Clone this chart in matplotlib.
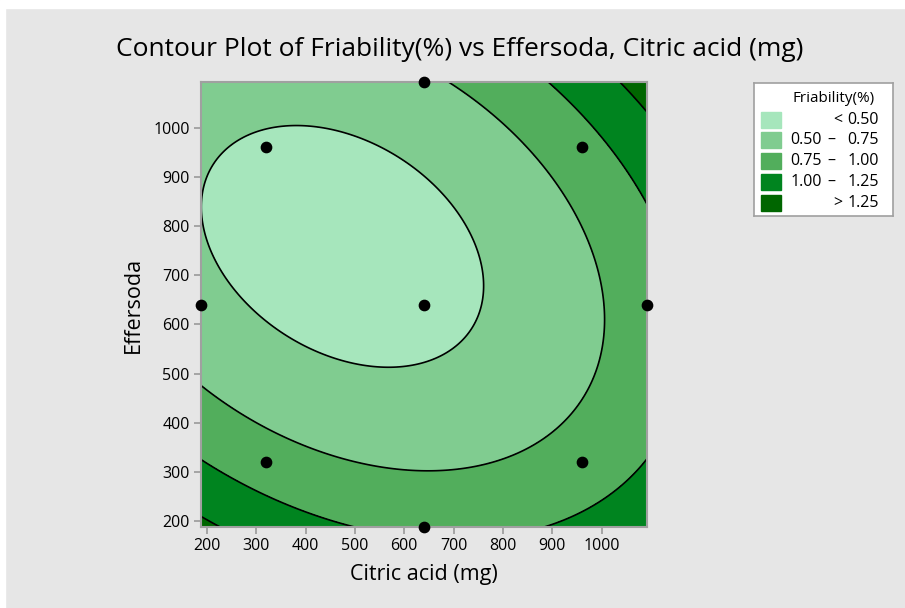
import numpy as np
import matplotlib.pyplot as plt
from matplotlib.patches import Rectangle

plt.rcParams['font.family'] = ['Open Sans', 'DejaVu Sans']

# points traced along each contour line of the reference (citric acid, effersoda)
c050_x = [362, 253, 195, 207, 263, 321, 483, 557, 686, 733, 757, 757, 737, 642, 591, 517]
c050_y = [1000, 968, 853, 738, 657, 603, 525, 515, 542, 590, 650, 725, 799, 900, 937, 974]
c075_x = [693, 767, 845, 902, 959, 996, 1003, 1003, 996, 966, 899, 794, 679, 591, 510, 423, 315, 190]
c075_y = [1090, 1042, 968, 887, 799, 711, 630, 603, 535, 451, 380, 323, 305, 304, 320, 343, 392, 475]
c100_x = [892, 956, 1013, 1091, 190, 254, 321, 423, 490, 892, 969, 1030, 1091]
c100_y = [1090, 1028, 961, 846, 324, 289, 252, 211, 191, 190, 225, 262, 326]
c125_x = [1040, 1091, 190, 220]
c125_y = [1090, 1035, 208, 190]

levels = [0.50, 0.75, 1.00, 1.25]
colors = ['#a6e6bc', '#80cc90', '#52ae5c', '#00841f', '#006600']
labels = ['<  0.50', '0.50  –  0.75', '0.75  –  1.00', '1.00  –  1.25', '>  1.25']

# design points (central composite design)
design_x = [320, 960, 320, 960, 187.5, 1092.5, 640, 640, 640]
design_y = [320, 320, 960, 960, 640, 640, 187.5, 1092.5, 640]

xlim = (187.5, 1092.5)
ylim = (187.5, 1092.5)

# fit the quadratic response surface to the traced contours
px = np.array(c050_x + c075_x + c100_x + c125_x, dtype=float)
py = np.array(c050_y + c075_y + c100_y + c125_y, dtype=float)
pz = np.array([levels[0]] * len(c050_x) + [levels[1]] * len(c075_x)
              + [levels[2]] * len(c100_x) + [levels[3]] * len(c125_x))


def terms(x, y):
    u = (x - 640) / 320
    v = (y - 640) / 320
    return np.stack([np.ones_like(u), u, v, u * u, v * v, u * v], axis=-1)


coef, *_ = np.linalg.lstsq(terms(px, py), pz, rcond=None)

gx, gy = np.meshgrid(np.linspace(*xlim, 300), np.linspace(*ylim, 300))
gz = terms(gx, gy) @ coef

fig = plt.figure(figsize=(9.05, 6.08), dpi=100, facecolor='#e6e6e6')
fig.patches.append(Rectangle((0, 1 - 8 / 608), 1, 8 / 608, transform=fig.transFigure,
                             color='white', zorder=-1))
fig.patches.append(Rectangle((0, 0), 5 / 905, 1, transform=fig.transFigure,
                             color='white', zorder=-1))

ax = fig.add_axes([0.2218, 0.1327, 0.4934, 0.7324])
bounds = [min(gz.min(), levels[0]) - 1] + levels + [max(gz.max(), levels[-1]) + 1]
ax.contourf(gx, gy, gz, levels=bounds, colors=colors)
ax.contour(gx, gy, gz, levels=levels, colors='black', linewidths=1.2)
ax.scatter(design_x, design_y, s=55, color='black', zorder=5, clip_on=False)

ax.set_xlim(*xlim)
ax.set_ylim(*ylim)
ax.set_xticks(range(200, 1001, 100))
ax.set_yticks(range(200, 1001, 100))
ax.tick_params(direction='out', length=5, width=1.2, color='#9a9a9a',
               labelsize=11.5, pad=3)
for s in ax.spines.values():
    s.set_color('#a0a0a0')
    s.set_linewidth(1.5)
ax.set_xlabel('Citric acid (mg)', fontsize=15.5, labelpad=7)
ax.set_ylabel('Effersoda', fontsize=15.5, labelpad=7)

fig.text(0.508, 0.918, 'Contour Plot of Friability(%) vs Effersoda, Citric acid (mg)',
         ha='center', va='center', fontsize=19)

# legend box
lg = fig.add_axes([754 / 905, 1 - 216 / 608, 139 / 905, 133 / 608])
lg.set_xlim(754, 893)
lg.set_ylim(216, 83)
lg.set_xticks([])
lg.set_yticks([])
lg.set_facecolor('white')
for s in lg.spines.values():
    s.set_color('#a0a0a0')
    s.set_linewidth(1.2)
lg.text(834, 99, 'Friability(%)', ha='center', va='center', fontsize=11)
rows = [120, 140, 161, 182, 203]
for i, (c, lab) in enumerate(zip(colors, labels)):
    yy = rows[i]
    lg.add_patch(Rectangle((761, yy - 8), 20, 16, color=c))
    parts = [p for p in lab.split('  ') if p]
    if len(parts) == 3:
        lg.text(822, yy, parts[0], ha='right', va='center', fontsize=11.5)
        lg.text(831, yy, parts[1], ha='center', va='center', fontsize=11.5)
        lg.text(879, yy, parts[2], ha='right', va='center', fontsize=11.5)
    else:
        lg.text(838, yy, parts[0], ha='center', va='center', fontsize=11.5)
        lg.text(879, yy, parts[1], ha='right', va='center', fontsize=11.5)

fig.savefig('out.png', dpi=100, facecolor=fig.get_facecolor())
